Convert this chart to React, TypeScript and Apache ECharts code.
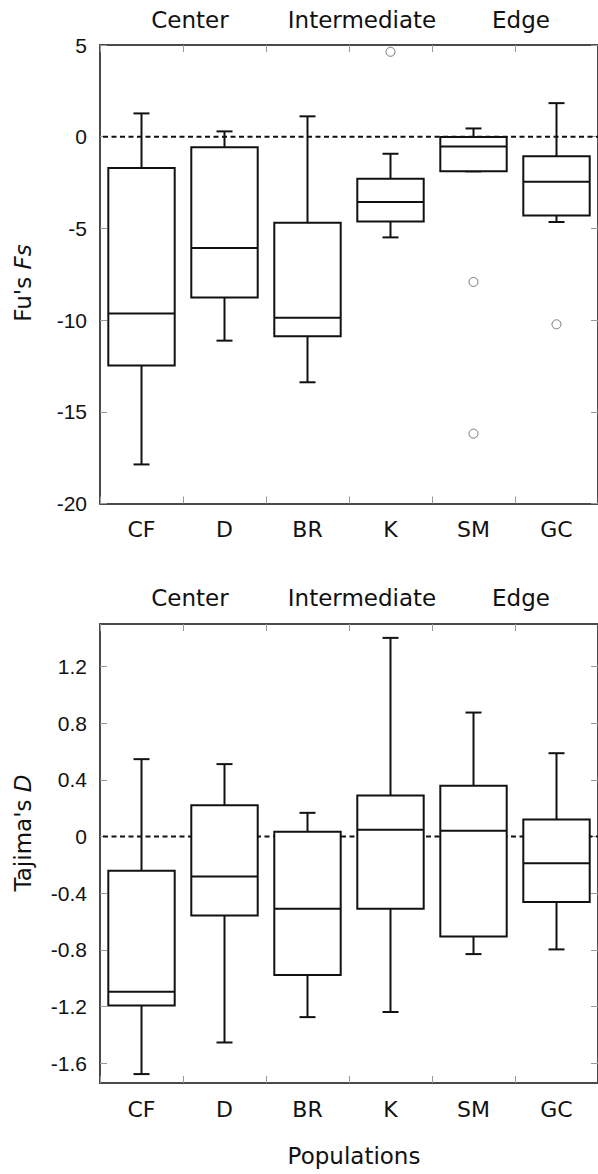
import React, { useEffect, useRef } from 'react';
import * as echarts from 'echarts';

const categories = ['CF', 'D', 'BR', 'K', 'SM', 'GC'];
const groupLabels = ['Center', 'Intermediate', 'Edge'];

// [min, Q1, median, Q3, max]
const fuBoxes = [
  [-17.87, -12.48, -9.64, -1.7, 1.27],
  [-11.12, -8.77, -6.07, -0.57, 0.29],
  [-13.39, -10.88, -9.87, -4.69, 1.11],
  [-5.49, -4.63, -3.56, -2.29, -0.93],
  [-1.89, -1.89, -0.53, -0.02, 0.45],
  [-4.65, -4.29, -2.45, -1.06, 1.83],
];
const fuOutliers = [
  [3, 4.63],
  [4, -7.92],
  [4, -16.19],
  [5, -10.23],
];
const tajBoxes = [
  [-1.677, -1.193, -1.096, -0.242, 0.546],
  [-1.454, -0.557, -0.282, 0.221, 0.511],
  [-1.275, -0.978, -0.51, 0.033, 0.167],
  [-1.239, -0.51, 0.047, 0.289, 1.402],
  [-0.83, -0.706, 0.04, 0.358, 0.875],
  [-0.797, -0.463, -0.188, 0.12, 0.588],
];
const fuRange = [-20, 5];
const fuInterval = 5;
const tajRange = [-1.74, 1.5];
const tajTicks = [-1.6, -1.2, -0.8, -0.4, 0, 0.4, 0.8, 1.2];
const zeroValue = 0;

const INK = '#111';
const AXIS = '#4a4a4a';
const TICK = '#999';
const CAT_FONT = 'DejaVu Sans';
const NUM_FONT = 'Liberation Sans';

function renderBox(params: any, api: any) {
  const x = api.value(0);
  const lo = api.coord([x, api.value(1)]);
  const q1 = api.coord([x, api.value(2)]);
  const med = api.coord([x, api.value(3)]);
  const q3 = api.coord([x, api.value(4)]);
  const hi = api.coord([x, api.value(5)]);
  const bw = api.size([1, 0])[0] * 0.8;
  const cx = lo[0];
  const half = bw / 2;
  const cap = 8;
  const style = { stroke: INK, lineWidth: 2, fill: 'none' };
  return {
    type: 'group',
    children: [
      { type: 'line', shape: { x1: cx, y1: hi[1], x2: cx, y2: q3[1] }, style },
      { type: 'line', shape: { x1: cx - cap, y1: hi[1], x2: cx + cap, y2: hi[1] }, style },
      { type: 'line', shape: { x1: cx, y1: q1[1], x2: cx, y2: lo[1] }, style },
      { type: 'line', shape: { x1: cx - cap, y1: lo[1], x2: cx + cap, y2: lo[1] }, style },
      {
        type: 'rect',
        shape: { x: cx - half, y: q3[1], width: bw, height: q1[1] - q3[1] },
        style: { fill: '#fff', stroke: INK, lineWidth: 2 },
      },
      { type: 'line', shape: { x1: cx - half, y1: med[1], x2: cx + half, y2: med[1] }, style },
    ],
  };
}

function renderZero(params: any, api: any) {
  const cs = params.coordSys;
  const y = api.coord([0, api.value(1)])[1];
  return {
    type: 'line',
    shape: { x1: cs.x + 3, y1: y, x2: cs.x + cs.width, y2: y },
    style: { stroke: INK, lineWidth: 2, lineDash: [5, 3.5] },
  };
}

function xAxes(g: number) {
  const base = {
    type: 'category',
    gridIndex: g,
    data: categories,
    boundaryGap: true,
    axisLine: { show: true, onZero: false, lineStyle: { color: AXIS, width: 2 } },
    axisTick: { show: true, inside: true, length: 7, lineStyle: { color: TICK, width: 1 } },
    splitLine: { show: false },
  };
  return [
    {
      ...base,
      position: 'bottom',
      axisLabel: { margin: 15, fontFamily: CAT_FONT, fontSize: 22, color: INK },
    },
    { ...base, position: 'top', axisLabel: { show: false } },
  ];
}

function yAxes(g: number, range: number[], extra: any, labelFmt: (v: number) => string) {
  const base: any = {
    type: 'value',
    gridIndex: g,
    min: range[0],
    max: range[1],
    axisLine: { show: true, onZero: false, lineStyle: { color: AXIS, width: 2 } },
    splitLine: { show: false },
  };
  if (extra.interval) base.interval = extra.interval;
  return [
    {
      ...base,
      position: 'left',
      axisTick: { show: true, inside: true, length: 7, lineStyle: { color: TICK, width: 1 }, ...(extra.tickExtra || {}) },
      axisLabel: {
        margin: 13,
        fontFamily: NUM_FONT,
        fontSize: 21,
        color: INK,
        formatter: labelFmt,
        ...(extra.labelExtra || {}),
      },
    },
    {
      ...base,
      position: 'right',
      axisTick: { show: true, inside: true, length: 7, lineStyle: { color: TICK, width: 1 }, ...(extra.tickExtra || {}) },
      axisLabel: { show: false, ...(extra.labelExtra || {}) },
    },
  ];
}

export default function App() {
  const ref = useRef<HTMLDivElement>(null);
  useEffect(() => {
    if (!ref.current) return;
    const chart = echarts.init(ref.current, null, { renderer: 'svg' });
    const titleX = [190, 362, 521];
    const titleText = (t: string, x: number, y: number) => ({
      type: 'text',
      x,
      y,
      style: {
        text: t,
        fontFamily: CAT_FONT,
        fontSize: 23,
        fill: INK,
        align: 'center',
        verticalAlign: 'middle',
      },
    });
    const nameText = (t: string, y: number) => ({
      type: 'text',
      x: 23,
      y,
      rotation: Math.PI / 2,
      style: {
        text: t,
        fontFamily: CAT_FONT,
        fontSize: 23,
        fill: INK,
        align: 'center',
        verticalAlign: 'middle',
        rich: {
          n: { fontFamily: CAT_FONT, fontSize: 23, fill: INK },
          i: { fontFamily: CAT_FONT, fontSize: 23, fill: INK, fontStyle: 'italic' },
        },
      },
    });
    const fmtNum = (v: number) => {
      const r = Math.round(v * 10) / 10;
      return r === 0 ? '0' : String(r);
    };
    const tajExtra = {
      tickExtra: { customValues: tajTicks },
      labelExtra: { customValues: tajTicks },
    };
    const option: any = {
      animation: false,
      backgroundColor: '#fff',
      grid: [
        { left: 100, top: 45, width: 504, height: 458.5 },
        { left: 100, top: 624, width: 504, height: 459 },
      ],
      xAxis: [...xAxes(0), ...xAxes(1)],
      yAxis: [
        ...yAxes(0, fuRange, { interval: fuInterval }, (v: number) => String(v)),
        ...yAxes(1, tajRange, tajExtra, fmtNum),
      ],
      graphic: [
        ...groupLabels.map((t, i) => titleText(t, titleX[i], 20)),
        ...groupLabels.map((t, i) => titleText(t, titleX[i], 598)),
        nameText("{n|Fu's }{i|Fs}", 283),
        nameText("{n|Tajima's }{i|D}", 833),
        titleText('Populations', 354, 1156),
      ],
      series: [
        {
          type: 'custom',
          xAxisIndex: 0,
          yAxisIndex: 0,
          z: 1,
          silent: true,
          renderItem: renderZero,
          encode: { x: 0, y: 1 },
          data: [[0, zeroValue]],
        },
        {
          type: 'custom',
          xAxisIndex: 0,
          yAxisIndex: 0,
          z: 3,
          renderItem: renderBox,
          encode: { x: 0, y: [1, 2, 3, 4, 5] },
          data: fuBoxes.map((b, i) => [i, ...b]),
        },
        {
          type: 'scatter',
          xAxisIndex: 0,
          yAxisIndex: 0,
          z: 4,
          symbol: 'circle',
          symbolSize: 9,
          itemStyle: { color: '#fff', borderColor: '#555', borderWidth: 1 },
          data: fuOutliers,
        },
        {
          type: 'custom',
          xAxisIndex: 2,
          yAxisIndex: 2,
          z: 1,
          silent: true,
          renderItem: renderZero,
          encode: { x: 0, y: 1 },
          data: [[0, zeroValue]],
        },
        {
          type: 'custom',
          xAxisIndex: 2,
          yAxisIndex: 2,
          z: 3,
          renderItem: renderBox,
          encode: { x: 0, y: [1, 2, 3, 4, 5] },
          data: tajBoxes.map((b, i) => [i, ...b]),
        },
      ],
    };
    chart.setOption(option);
    return () => chart.dispose();
  }, []);
  return (
    <div
      ref={ref}
      style={{ position: 'absolute', left: 0, top: 0, width: 598, height: 1174, background: '#fff' }}
    />
  );
}
